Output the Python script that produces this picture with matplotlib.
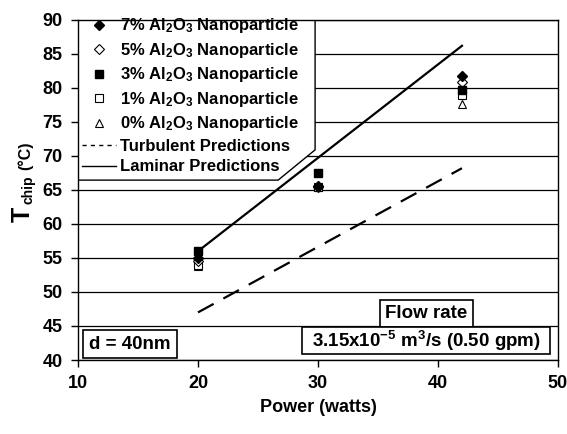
import matplotlib
matplotlib.use('Agg')
import matplotlib.pyplot as plt
from matplotlib.patches import Polygon, Rectangle
from matplotlib.lines import Line2D

plt.rcParams['font.family'] = 'Liberation Sans'
plt.rcParams['font.weight'] = 'bold'
plt.rcParams['axes.labelweight'] = 'bold'
plt.rcParams['mathtext.fontset'] = 'custom'
plt.rcParams['mathtext.rm'] = 'Liberation Sans:bold'
plt.rcParams['mathtext.it'] = 'Liberation Sans:bold'
plt.rcParams['mathtext.bf'] = 'Liberation Sans:bold'
plt.rcParams['mathtext.default'] = 'rm'

# measured chip temperatures
power = [20, 30, 42]
t_7 = [55.0, 65.6, 81.8]
t_5 = [54.5, 65.5, 80.9]
t_3 = [56.0, 67.5, 79.7]
t_1 = [54.0, 65.5, 79.0]
t_0 = [53.8, 65.4, 77.6]

# model predictions
pred_power = [20, 42]
turbulent = [47.0, 68.2]
laminar = [56.0, 86.2]

fig = plt.figure(figsize=(5.67, 4.34), dpi=100)
ax = fig.add_axes([0.1376, 0.1705, 0.8464, 0.7835])

ax.set_xlim(10, 50)
ax.set_ylim(40, 90)
ax.set_xticks([10, 20, 30, 40, 50])
ax.set_yticks(range(40, 91, 5))
ax.yaxis.grid(True, color='black', linewidth=0.9, zorder=0)
ax.set_axisbelow(True)
ax.tick_params(labelsize=13, length=5, width=1, color='black', pad=6)
for lab in ax.get_xticklabels() + ax.get_yticklabels():
    lab.set_fontweight('bold')
for s in ax.spines.values():
    s.set_linewidth(1)

ax.plot(pred_power, turbulent, color='black', linestyle=(0, (8, 5)), linewidth=1.6, zorder=3)
ax.plot(pred_power, laminar, color='black', linestyle='-', linewidth=1.6, zorder=3)

ax.plot(power, t_0, linestyle='none', marker='^', ms=6, mfc='white', mec='black', mew=0.8, zorder=4)
ax.plot(power, t_1, linestyle='none', marker='s', ms=6, mfc='white', mec='black', mew=0.8, zorder=4)
ax.plot(power, t_5, linestyle='none', marker='D', ms=5, mfc='white', mec='black', mew=0.8, zorder=4)
ax.plot(power, t_3, linestyle='none', marker='s', ms=6, mfc='black', mec='black', zorder=5)
ax.plot(power, t_7, linestyle='none', marker='D', ms=5, mfc='black', mec='black', zorder=5)

# legend background shape with cut corner
poly = Polygon([(0, 1), (0.494, 1), (0.494, 0.618), (0.417, 0.529), (0, 0.529)],
               closed=True, transform=ax.transAxes, facecolor='white',
               edgecolor='black', linewidth=1, zorder=2)
ax.add_patch(poly)

handles = [
    Line2D([], [], linestyle='none', marker='D', ms=5, mfc='black', mec='black'),
    Line2D([], [], linestyle='none', marker='D', ms=5, mfc='white', mec='black', mew=0.8),
    Line2D([], [], linestyle='none', marker='s', ms=6, mfc='black', mec='black'),
    Line2D([], [], linestyle='none', marker='s', ms=6, mfc='white', mec='black', mew=0.8),
    Line2D([], [], linestyle='none', marker='^', ms=6, mfc='white', mec='black', mew=0.8),
    Line2D([], [], color='black', linestyle=(0, (3, 3)), linewidth=1),
    Line2D([], [], color='black', linestyle='-', linewidth=1),
]
labels = ['7% Al$_2$O$_3$ Nanoparticle', '5% Al$_2$O$_3$ Nanoparticle',
          '3% Al$_2$O$_3$ Nanoparticle', '1% Al$_2$O$_3$ Nanoparticle',
          '0% Al$_2$O$_3$ Nanoparticle', 'Turbulent Predictions', 'Laminar Predictions']
leg = ax.legend(handles, labels, loc='upper left', bbox_to_anchor=(-0.005, 1.03),
                frameon=False, fontsize=12, handlelength=2.0, handletextpad=0.25,
                labelspacing=0.33, borderaxespad=0)
leg.set_zorder(6)

# annotation boxes
ax.add_patch(Rectangle((10.42, 40.29), 7.83, 4.12, facecolor='white', edgecolor='black',
                       linewidth=1.2, zorder=6))
ax.add_patch(Rectangle((35.17, 44.85), 7.75, 3.97, facecolor='white', edgecolor='black',
                       linewidth=1.2, zorder=6))
ax.add_patch(Rectangle((28.67, 40.88), 20.66, 3.97, facecolor='white', edgecolor='black',
                       linewidth=1.2, zorder=6))
ax.text(14.33, 42.3, 'd = 40nm', ha='center', va='center', fontsize=13.5, zorder=7)
ax.text(39.04, 46.8, 'Flow rate', ha='center', va='center', fontsize=13.5, zorder=7)
ax.text(39.0, 42.8, '3.15x10$^{-5}$ m$^3$/s (0.50 gpm)', ha='center', va='center',
        fontsize=13.5, zorder=7)

ax.set_xlabel('Power (watts)', fontsize=13, labelpad=5)

# y label built from pieces: large T, small subscript, unit
fig.text(0.040, 0.506, 'T', rotation=90, fontsize=18, ha='center', va='center')
fig.text(0.0495, 0.562, 'chip', rotation=90, fontsize=10, ha='center', va='center')
fig.text(0.0445, 0.641, '(\u00b0C)', rotation=90, fontsize=11.5, ha='center', va='center')

fig.savefig('out.png', dpi=100)
